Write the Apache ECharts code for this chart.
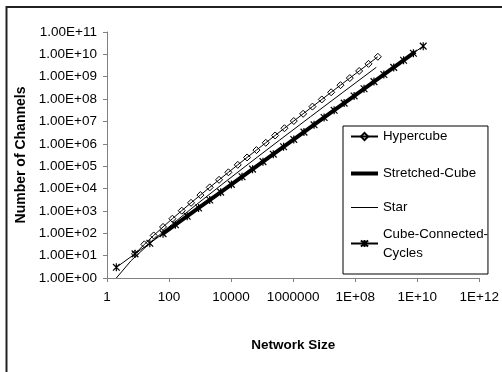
<!DOCTYPE html>
<html><head><meta charset="utf-8">
<script src="https://cdn.jsdelivr.net/npm/echarts@6/dist/echarts.min.js"></script>
<style>html,body{margin:0;padding:0;background:#fff}#c{width:502px;height:372px}</style>
</head><body><div id="c"></div>
<script>
// ---- data ----
const hypercubeSize = [8,16,32,64,128,256,512,1024,2048,4096,8192,16384,32768,65536,131072,262144,524288,1048576,2097152,4194304,8388608,16777216,33554432,67108864,134217728,268435456,536870912];
const hypercubeChannels = [12,32,80,192,448,1024,2304,5120,11264,24576,53248,114688,245760,524288,1114112,2359296,4980736,10485760,22020096,46137344,96468992,201326592,419430400,872415232,1811939328,3758096384,7784628224];

const stretchedSize = [64,256,1024,4096,16384,65536,262144,1048576,4194304,16777216,67108864,268435456,1073741824,4294967296,8589934592];
const stretchedChannels = [96,384,1536,6144,24576,98304,393216,1572864,6291456,25165824,100663296,402653184,1610612736,6442450944,12884901888];

const starSize = [2,6,24,120,720,5040,40320,362880,3628800,39916800,479001600];
const starChannels = [1,6,36,240,1800,15120,141120,1451520,16329600,199584000,2634508800];

const cccSize = [2,8,24,64,160,384,896,2048,4608,10240,22528,49152,106496,229376,491520,1048576,2228224,4718592,9961472,20971520,44040192,92274688,192937984,402653184,838860800,1744830464,3623878656,7516192768,15569256448];
const cccChannels = [3,12,36,96,240,576,1344,3072,6912,15360,33792,73728,159744,344064,737280,1572864,3342336,7077888,14942208,31457280,66060288,138412032,289406976,603979776,1258291200,2617245696,5435817984,11274289152,23353884672];

const xTickValues = [1,100,10000,1000000,1e8,1e10,1e12];
const xTickLabels = ['1','100','10000','1000000','1E+08','1E+10','1E+12'];
const yTickValues = [1,10,100,1e3,1e4,1e5,1e6,1e7,1e8,1e9,1e10,1e11];
const yTickLabels = ['1.00E+00','1.00E+01','1.00E+02','1.00E+03','1.00E+04','1.00E+05','1.00E+06','1.00E+07','1.00E+08','1.00E+09','1.00E+10','1.00E+11'];

const seriesNames = ['Hypercube','Stretched-Cube','Star','Cube-Connected-Cycles'];

// ---- chart ----
const FONT = '"Liberation Sans", Arial, sans-serif';
const pairs = (xs, ys) => xs.map((x, i) => [x, ys[i]]);
const labelFor = (vals, labels) => v => {
  let best = 0, bd = Infinity;
  vals.forEach((t, i) => { const d = Math.abs(Math.log10(t) - Math.log10(v)); if (d < bd) { bd = d; best = i; } });
  return labels[best];
};

const chart = echarts.init(document.getElementById('c'), null, {renderer: 'canvas'});
chart.setOption({
  animation: false,
  backgroundColor: '#fff',
  graphic: [{
    type: 'rect', silent: true, z: -1,
    shape: {x: 6.5, y: 7, width: 700, height: 700},
    style: {fill: 'none', stroke: '#222', lineWidth: 2}
  }],
  grid: {left: 107, right: 20, top: 32, bottom: 94, containLabel: false},
  xAxis: {
    type: 'log', logBase: 10, min: 1, max: 1e12,
    name: 'Network Size', nameLocation: 'middle', nameGap: 60,
    nameTextStyle: {fontFamily: FONT, fontSize: 13.5, fontWeight: 'bold', color: '#000'},
    axisLine: {show: true, lineStyle: {color: '#808080', width: 1}},
    axisTick: {show: true, length: 4, inside: false, customValues: xTickValues, lineStyle: {color: '#808080'}},
    axisLabel: {customValues: xTickValues, formatter: labelFor(xTickValues, xTickLabels), margin: 12,
      fontFamily: FONT, fontSize: 13.5, color: '#000'},
    splitLine: {show: false}, minorTick: {show: false}
  },
  yAxis: {
    type: 'log', logBase: 10, min: 1, max: 1e11,
    name: 'Number of Channels', nameLocation: 'middle', nameGap: 75, nameRotate: 90,
    nameTextStyle: {fontFamily: FONT, fontSize: 14, fontWeight: 'bold', color: '#000'},
    axisLine: {show: true, lineStyle: {color: '#808080', width: 1}},
    axisTick: {show: true, length: 4, inside: false, customValues: yTickValues, lineStyle: {color: '#808080'}},
    axisLabel: {customValues: yTickValues, formatter: labelFor(yTickValues, yTickLabels), margin: 10,
      fontFamily: FONT, fontSize: 13.5, color: '#000'},
    splitLine: {show: false}, minorTick: {show: false}
  },
  legend: {
    orient: 'vertical', left: 343, top: 126,
    padding: [0, 0, 2, 6], itemGap: 0, itemWidth: 27, itemHeight: 9,
    borderColor: '#000', borderWidth: 1, borderRadius: 0, backgroundColor: '#fff',
    selectedMode: false,
    textStyle: {fontFamily: FONT, fontSize: 13.3, color: '#000', lineHeight: 19},
    formatter: n => n === 'Cube-Connected-Cycles' ? 'Cube-Connected-\nCycles' : n,
    data: [
      {name: seriesNames[0], textStyle: {lineHeight: 21}},
      {name: seriesNames[1], textStyle: {lineHeight: 53}, itemStyle: {opacity: 0}, lineStyle: {width: 4, color: '#000'}},
      {name: seriesNames[2], textStyle: {lineHeight: 15}, itemStyle: {opacity: 0}, lineStyle: {width: 1, color: '#000'}},
      {name: seriesNames[3], textStyle: {lineHeight: 19, padding: [19, 0, 0, 0]}}
    ]
  },
  series: [
    {
      name: seriesNames[1], type: 'line', data: pairs(stretchedSize, stretchedChannels),
      symbol: 'none', lineStyle: {color: '#000', width: 4}, itemStyle: {color: '#000'}, z: 2
    },
    {
      name: seriesNames[2], type: 'line', data: pairs(starSize, starChannels),
      symbol: 'none', lineStyle: {color: '#000', width: 1}, itemStyle: {color: '#000'}, z: 3
    },
    {
      name: seriesNames[3], type: 'line', data: pairs(cccSize, cccChannels),
      symbol: 'path://M5 0 L5 10 M0.8 0.8 L9.2 9.2 M0.8 9.2 L9.2 0.8', symbolSize: 8, symbolKeepAspect: true,
      showAllSymbol: true,
      lineStyle: {color: '#000', width: 1}, itemStyle: {color: 'rgba(0,0,0,0)', borderColor: '#000', borderWidth: 1.2}, z: 4
    },
    {
      name: seriesNames[0], type: 'line', data: pairs(hypercubeSize, hypercubeChannels),
      symbol: 'diamond', symbolSize: 7, showAllSymbol: true,
      lineStyle: {color: '#000', width: 1}, itemStyle: {color: 'rgba(0,0,0,0)', borderColor: '#000', borderWidth: 1}, z: 5
    }
  ]
});
</script>
</body></html>
